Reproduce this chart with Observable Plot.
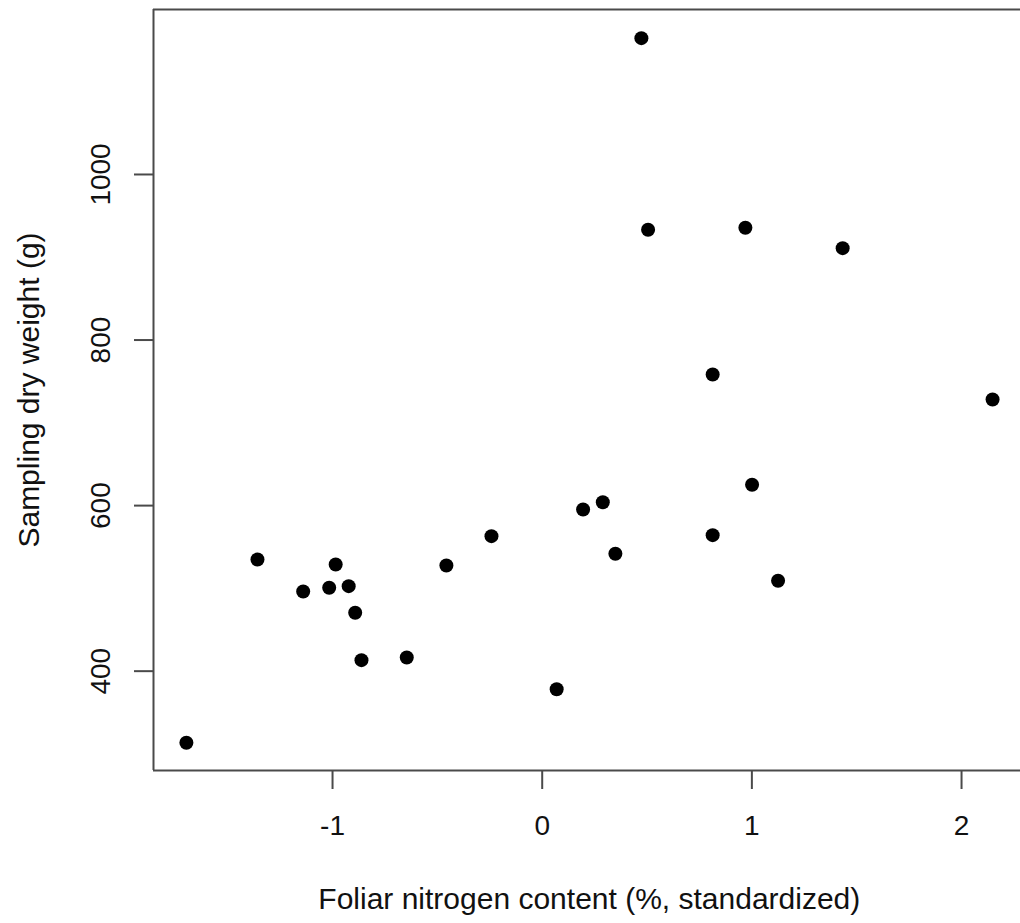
<!DOCTYPE html>
<html>
<head>
<meta charset="utf-8">
<script src="https://cdn.jsdelivr.net/npm/d3@7"></script>
<script src="https://cdn.jsdelivr.net/npm/@observablehq/plot@0.6"></script>
<style>
  html, body { margin: 0; padding: 0; background: #fff; }
  #chart { width: 1020px; height: 923px; overflow: hidden; }
</style>
</head>
<body>
<div id="chart"></div>
<script>
// Foliar nitrogen content (%, standardized)
const nitrogen = [-1.697, -1.358, -1.140, -1.016, -0.985, -0.923, -0.892, -0.862, -0.646, -0.457, -0.242, 0.069, 0.195, 0.289, 0.349, 0.473, 0.505, 0.813, 0.813, 0.969, 1.001, 1.125, 1.433, 2.148];
// Sampling dry weight (g)
const weight = [313.5, 534.9, 496.3, 500.7, 528.9, 502.7, 470.5, 413.3, 416.5, 527.7, 563.1, 378.2, 595.3, 604.1, 541.8, 1164.7, 933.2, 758.4, 564.3, 935.6, 625.2, 509.2, 911, 728.2];
const xTicks = [-1, 0, 1, 2];
const yTicks = [400, 600, 800, 1000];
const xTitle = "Foliar nitrogen content (%, standardized)";
const yTitle = "Sampling dry weight (g)";

const data = nitrogen.map((x, i) => ({x, y: weight[i]}));
const xDomain = [-1.8539, 2.2812];
const yDomain = [280, 1199.3];
const lineColor = "#4a4a4a";

const chart = Plot.plot({
  width: 1020,
  height: 923,
  marginLeft: 153,
  marginRight: 0,
  marginTop: 9,
  marginBottom: 153,
  style: {background: "#fff", fontFamily: "'Liberation Sans', Arial, Helvetica, sans-serif", color: "#000"},
  x: {domain: xDomain, label: null},
  y: {domain: yDomain, label: null},
  marks: [
    Plot.ruleY([yDomain[1]], {stroke: lineColor, strokeWidth: 2}),
    Plot.ruleY([yDomain[0]], {stroke: lineColor, strokeWidth: 2}),
    Plot.ruleX([xDomain[0]], {stroke: lineColor, strokeWidth: 2}),
    Plot.axisX({ticks: xTicks, tickSize: 19, tickPadding: 26, fontSize: 28, stroke: lineColor, strokeWidth: 2, fill: "#111", tickFormat: d => `${d}`, label: null}),
    Plot.axisY({ticks: yTicks, tickSize: 19, tickPadding: 24.7, tickRotate: -90, fontSize: 28, stroke: lineColor, strokeWidth: 2, fill: "#111", tickFormat: d => `${d}`, label: null}),
    Plot.text([xTitle], {frameAnchor: "bottom", dy: 138, dx: 2.3, lineAnchor: "bottom", textAnchor: "middle", fontSize: 30, fill: "#111"}),
    Plot.text([yTitle], {frameAnchor: "left", dx: -115, rotate: -90, lineAnchor: "bottom", textAnchor: "middle", fontSize: 30, fill: "#111"}),
    Plot.dot(data, {x: "x", y: "y", r: 7, fill: "#000", stroke: null})
  ]
});
document.getElementById("chart").append(chart);
</script>
</body>
</html>
